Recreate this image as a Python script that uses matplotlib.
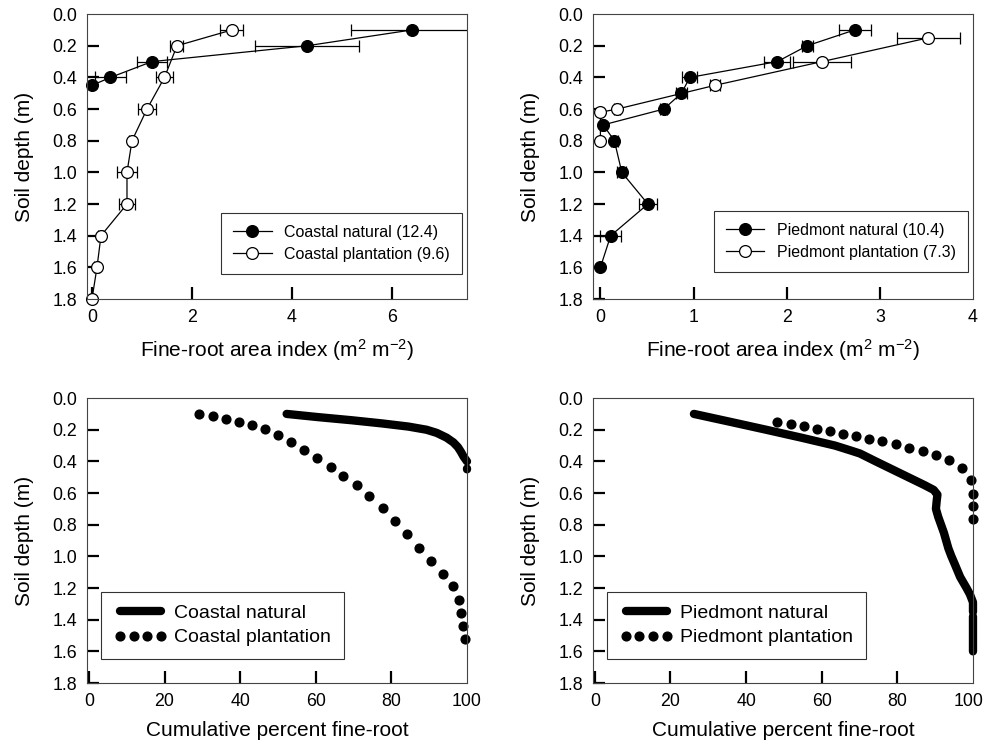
import matplotlib
matplotlib.use("Agg")
import matplotlib.pyplot as plt
import matplotlib.transforms as mtransforms
import numpy as np

plt.rcParams['font.family'] = ['Liberation Sans', 'DejaVu Sans']
plt.rcParams['mathtext.default'] = 'regular'

# --- top panels: fine-root area index by depth ---
coastal_nat_depth = [0.1, 0.2, 0.3, 0.4, 0.45]
coastal_nat_fai = [6.4, 4.3, 1.2, 0.37, 0.0]
coastal_nat_err = [1.22, 1.03, 0.3, 0.31, 0.0]

coastal_pl_depth = [0.1, 0.2, 0.4, 0.6, 0.8, 1.0, 1.2, 1.4, 1.6, 1.8]
coastal_pl_fai = [2.8, 1.7, 1.45, 1.1, 0.8, 0.7, 0.7, 0.18, 0.1, 0.0]
coastal_pl_err = [0.23, 0.13, 0.17, 0.18, 0.05, 0.2, 0.16, 0.05, 0.05, 0.0]

pied_nat_depth = [0.1, 0.2, 0.3, 0.4, 0.5, 0.6, 0.7, 0.8, 1.0, 1.2, 1.4, 1.6]
pied_nat_fai = [2.73, 2.22, 1.9, 0.96, 0.87, 0.68, 0.03, 0.15, 0.23, 0.51, 0.11, 0.0]
pied_nat_err = [0.17, 0.06, 0.14, 0.08, 0.06, 0.04, 0.02, 0.04, 0.05, 0.1, 0.11, 0.0]

pied_pl_depth = [0.15, 0.3, 0.45, 0.6, 0.62, 0.8]
pied_pl_fai = [3.52, 2.38, 1.23, 0.18, 0.0, 0.0]
pied_pl_err = [0.34, 0.31, 0.05, 0.03, 0.0, 0.0]

# --- bottom panels: cumulative percent ---
coastal_nat_cum_depth = [0.10, 0.12, 0.14, 0.16, 0.18, 0.20, 0.22, 0.25, 0.28,
                         0.31, 0.34, 0.37, 0.40, np.nan, 0.445, 0.45]
coastal_nat_cum = [52.3, 60.5, 69.5, 77.5, 84.5, 89.3, 92.0, 94.6, 96.4,
                   97.6, 98.4, 99.1, 100, np.nan, 100, 100]

coastal_pl_cum_depth = [0.101, 0.114, 0.131, 0.152, 0.171, 0.198, 0.232, 0.276,
                        0.326, 0.379, 0.436, 0.491, 0.552, 0.619, 0.697, 0.779,
                        0.861, 0.945, 1.027, 1.109, 1.189, 1.274, 1.358, 1.44, 1.522]
coastal_pl_cum = [29.1, 32.7, 36.3, 39.7, 43.1, 46.6, 50.1, 53.5, 56.9, 60.4,
                  63.9, 67.3, 70.8, 74.2, 77.7, 81.0, 84.0, 87.2, 90.4, 93.6,
                  96.4, 97.8, 98.4, 98.9, 99.5]

pied_nat_cum_depth = [0.10, 0.15, 0.20, 0.25, 0.30, 0.33, 0.35, 0.40, 0.45, 0.50,
                      0.55, 0.58, 0.61, 0.65, 0.70, 0.75, 0.85, 0.95, 1.00, 1.05,
                      1.13, 1.20, 1.24, 1.29, 1.35, np.nan, 1.38, 1.60]
pied_nat_cum = [26.2, 35.8, 45.3, 54.6, 63.5, 67.5, 70.1, 74.3, 78.6, 82.9,
                87.2, 89.6, 90.6, 90.4, 90.2, 90.8, 92.3, 93.5, 94.3, 95.2,
                96.6, 98.3, 99.2, 100, 100, np.nan, 100, 100]

pied_pl_cum_depth = [0.152, 0.162, 0.177, 0.194, 0.21, 0.225, 0.242, 0.259, 0.274,
                     0.293, 0.314, 0.335, 0.362, 0.394, 0.442, 0.52, 0.604, 0.684, 0.766]
pied_pl_cum = [48.3, 51.8, 55.2, 58.7, 62.2, 65.6, 69.1, 72.6, 76.0, 79.6,
               83.2, 86.7, 90.1, 93.7, 97.0, 99.4, 99.9, 100, 100]

depth_ticks = np.arange(0, 1.81, 0.2)

fig = plt.figure(figsize=(9.84, 7.42), dpi=100)
w, h = 0.3862, 0.384
ax_tl = fig.add_axes([0.0884, 0.597, w, h])
ax_tr = fig.add_axes([0.6026, 0.597, w, h])
ax_bl = fig.add_axes([0.0884, 0.0795, w, h])
ax_br = fig.add_axes([0.6026, 0.0795, w, h])


def style(ax, xlim, xticks, xlabel):
    ax.set_ylim(1.8, 0.0)
    ax.set_xlim(*xlim)
    ax.set_yticks(depth_ticks)
    ax.set_yticklabels(['%.1f' % v for v in depth_ticks])
    ax.set_xticks(xticks)
    ax.tick_params(direction='in', length=8.5, width=1.6, labelsize=12.8, pad=7)
    for s in ax.spines.values():
        s.set_linewidth(0.8)
        s.set_color('#444444')
    ax.set_ylabel('Soil depth (m)', fontsize=15, labelpad=13)
    ax.set_xlabel(xlabel, fontsize=15, labelpad=8)
    ax.yaxis.get_major_ticks()[0].tick1line.set_visible(False)


fai_label = r'Fine-root area index (m$^{2}$ m$^{-2}$)'
cum_label = 'Cumulative percent fine-root'

eb_kw = dict(color='black', lw=0.9, elinewidth=0.9, capsize=4, capthick=0.9,
             marker='o', markersize=8.5, markeredgewidth=0.9, markeredgecolor='black')

# top left
eb1 = ax_tl.errorbar(coastal_nat_fai, coastal_nat_depth, xerr=coastal_nat_err,
                     markerfacecolor='black', label='Coastal natural (12.4)', **eb_kw)
eb2 = ax_tl.errorbar(coastal_pl_fai, coastal_pl_depth, xerr=coastal_pl_err,
                     markerfacecolor='white', label='Coastal plantation (9.6)', **eb_kw)
style(ax_tl, (-0.1, 7.5), [0, 2, 4, 6], fai_label)

# top right
eb3 = ax_tr.errorbar(pied_nat_fai, pied_nat_depth, xerr=pied_nat_err,
                     markerfacecolor='black', label='Piedmont natural (10.4)', **eb_kw)
eb4 = ax_tr.errorbar(pied_pl_fai, pied_pl_depth, xerr=pied_pl_err,
                     markerfacecolor='white', label='Piedmont plantation (7.3)', **eb_kw)
style(ax_tr, (-0.08, 4.0), [0, 1, 2, 3, 4], fai_label)
ax_tr.xaxis.get_major_ticks()[-1].tick1line.set_visible(False)

for eb in [eb1, eb2, eb3, eb4]:
    eb[0].set_clip_on(False)

for ax, anchor in [(ax_tl, (0.987, 0.088)), (ax_tr, (0.987, 0.095))]:
    handles, labels = ax.get_legend_handles_labels()
    handles = [hd[0] for hd in handles]
    leg = ax.legend(handles, labels, loc='lower right', bbox_to_anchor=anchor,
                    borderaxespad=0, fancybox=False, edgecolor='black', fontsize=11.5,
                    numpoints=1, handlelength=2.4, borderpad=0.75, labelspacing=0.45,
                    handletextpad=0.8)
    leg.get_frame().set_linewidth(0.8)

# bottom left
ax_bl.plot(coastal_nat_cum, coastal_nat_cum_depth, color='black', lw=6,
           solid_capstyle='round', solid_joinstyle='round', label='Coastal natural')
ax_bl.plot(coastal_pl_cum, coastal_pl_cum_depth, 'o', color='black', markersize=6.3,
           label='Coastal plantation')
style(ax_bl, (-0.5, 100), [0, 20, 40, 60, 80, 100], cum_label)

# bottom right
ax_br.plot(pied_nat_cum, pied_nat_cum_depth, color='black', lw=6,
           solid_capstyle='round', solid_joinstyle='round', label='Piedmont natural')
ax_br.plot(pied_pl_cum, pied_pl_cum_depth, 'o', color='black', markersize=6.3,
           label='Piedmont plantation')
style(ax_br, (-0.5, 100), [0, 20, 40, 60, 80, 100], cum_label)

for ax in [ax_bl, ax_br]:
    ax.xaxis.get_major_ticks()[-1].tick1line.set_visible(False)
    for line in ax.get_lines():
        line.set_clip_on(False)
    leg = ax.legend(loc='lower left', bbox_to_anchor=(0.038, 0.084), borderaxespad=0,
                    fancybox=False, edgecolor='black', fontsize=14, numpoints=4,
                    handlelength=2.7, borderpad=0.65, labelspacing=0.35,
                    handletextpad=0.4)
    leg.get_frame().set_linewidth(0.8)

# nudge the right-edge "100" label in so it stays on the canvas
shift = mtransforms.ScaledTranslation(-4 / 100, 0, fig.dpi_scale_trans)
lab = ax_br.get_xticklabels()[-1]
lab.set_transform(lab.get_transform() + shift)

fig.savefig('out.png', dpi=100)
plt.close(fig)
